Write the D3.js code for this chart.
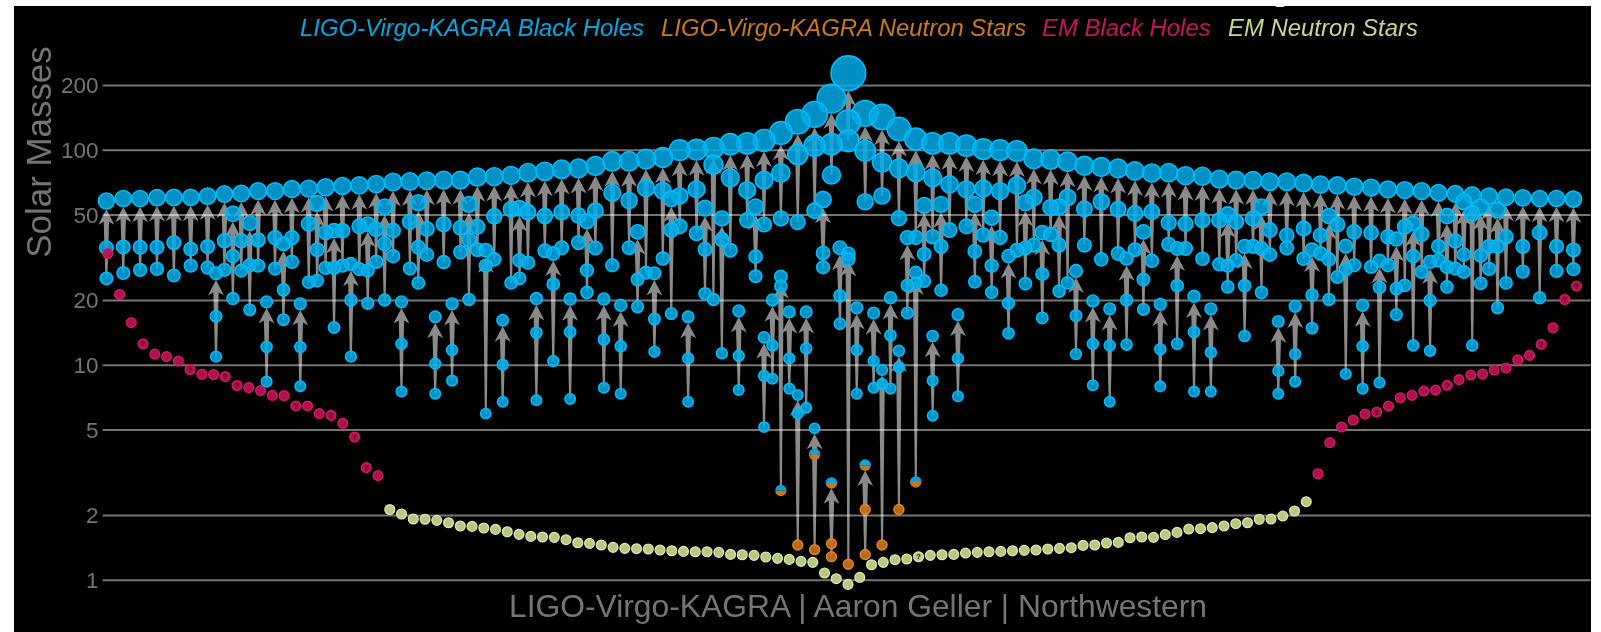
<!DOCTYPE html>
<html><head><meta charset="utf-8">
<script src="https://cdn.jsdelivr.net/npm/d3@7"></script>
<style>html,body{margin:0;padding:0;background:#fff}svg{display:block;filter:blur(0.4px)}</style>
</head><body><svg id="c" width="1601" height="632"></svg>
<script>
const yTicks=[1,2,5,10,20,50,100,200];
const legendLabels=["LIGO-Virgo-KAGRA Black Holes","LIGO-Virgo-KAGRA Neutron Stars","EM Black Holes","EM Neutron Stars"];
const yTitle="Solar Masses";
const credit="LIGO-Virgo-KAGRA | Aaron Geller | Northwestern";

// heaviest mergers, one per whole column 0..87
const topFinal=[57.7,59.3,59.3,59.8,60,60,60.8,62.2,62.6,64.2,64.2,65.6,65.9,66.8,67.8,68.2,69.2,70.7,71.2,71.7,72.2,72.2,74.6,74.9,75.9,78.2,79.3,81,81.8,84,88.3,88.3,90.4,92,99.6,100,102,106,107,110.5,119.6,135,146,172.7,227,147.6,142,124.8,112,107,107,104.4,100.7,99.6,98.6,90.7,90,87.9,84.2,83.1,81.8,79.6,77.9,78.2,75.7,75.2,73,72.2,72,71,71,70,68.8,68.2,67.3,66.6,65.4,64.9,64.2,63,62.3,61.5,60.8,60.1,59.7,59.3,59.3,58.9];
const topPrimary=[35,35.3,35.2,35.2,37,34.5,35.4,37.7,37.7,38,39,39,45.2,41.2,42,44,42.6,42.1,46.2,42.8,45,43.3,43.8,49,52.8,51.2,49.1,51.2,49.4,52,63,58,66.3,64.4,61,65.4,85.2,74,64.9,72.2,78,95,104.4,106,134.5,98.9,87.3,81.8,78.4,74,69,65.4,66,64.2,68.2,60,53.9,60,53,57.3,52.8,50.5,51.4,45.7,45.2,47,47,46.2,47.9,42.3,40,43,40,44.9,41.5,41.1,39.4,43.8,40.5,35.5,37.6,50.5,35.5,39.4,35.5,41.1,35.5,34.2];
const topSecondary=[25.2,26.7,27.6,27.9,26,28.9,28.3,27.6,27.4,28.9,28,30.1,24.2,28.2,28.9,27.8,30.1,32,28,32.5,30,33.4,34.3,30.9,24,29.8,33.9,35,37,34.9,29,35,26.8,31.2,44,40.8,20.1,34.1,47,44.9,47.9,46,52,76.2,110,57.3,61,48,39.1,39.4,42.3,44,40.1,39.1,34.1,36,40.4,24,36,30.9,32.9,34.3,30.4,36.3,34.7,31.1,29.3,30.6,35.5,32.5,34.9,31.1,32.9,25.6,29,28.5,29,23.4,27,30.6,28,12.3,27.9,24,27.1,20.5,27.3,27.8];

// lighter mergers, on the half columns 6.5..82.5
const midFinal=[26.6,50.3,45.6,19.6,36.5,19.2,56.3,42,29.4,45,54.3,19.6,56.7,16.7,19.2,55.7,34.1,16.1,53.4,20.3,32.9,20.2,46.5,20.2,18.9,41.5,26.6,59.3,16.7,53.5,47.9,17.8,54.3,20,17.6,17.6,58.7,35,18.4,17.4,20.5,39,55.1,55.7,17.1,55.7,48.3,32,56.7,41.2,54.3,27.3,19.8,18.2,31.2,41.5,19.1,34.7,20.8,18.2,50,35.5,54.3,15.9,18.7,34.3,49.1,35.6,18.9,30.4,38.4,45.4,30.1,49.1,57.3,54.3,52.4];
const midPrimary=[16.8,32,29,12.1,22.3,12.1,34.3,28.2,20,27.4,36.6,12.5,35.2,10.1,11.7,38,28.9,10,30.6,14.1,23.7,14.2,27.5,13.1,12.2,24.9,16.3,42.3,10.7,34.4,38.2,11,31.8,12.3,10.7,11.9,33.1,20.9,11.7,10.4,13.7,23.4,32.7,35.5,10.7,33.7,28.9,19.3,34.9,26.4,36,16.9,12.5,12.3,20,24.9,11.8,23.3,14.2,11.4,28.9,23.3,34.7,9.35,11.2,21.1,30.9,27.7,12.2,22.9,22.6,32,19.9,28.5,32.5,32.2,35.5];
const midSecondary=[10.9,20.3,18,8.34,16.2,7.93,24.6,14.9,10.9,19.3,20,7.5,24,7.33,8.43,20.1,5.92,6.73,25.2,6.83,10.4,6.93,21.7,7.82,7.33,18.6,11.5,17.3,6.73,21.4,11.3,7.63,25.8,8.6,7.74,6.31,28.4,15.5,7.33,7.82,7.74,17.4,24.5,22.2,7.13,24.3,21.7,14,23.8,16.5,22,11.2,8.03,6.73,12.4,18.1,7.93,12.5,7.5,7.5,23,13.6,21.7,7.33,8.34,14.8,20.1,9.05,7.74,8.25,17.1,12.3,11.6,23,27,23.9,18.4];

// lowest-mass mergers near the centre
const lowColumn=[39,40,41,42,43,44,45,46,47,48,49];
const lowFinal=[13.4,25.7,7.22,5.06,2.82,32.8,3.41,9.45,11.6,26.8,13.6];
const lowPrimary=[8.87,23.2,5.92,3.83,1.47,30.9,2.12,8.16,9.75,23.9,8.43];
const lowSecondary=[5.13,2.6,1.45,1.38,1.28,1.18,1.31,1.45,2.12,2.85,5.79];

// electromagnetic objects, positions 0..125
const emBlackLeft=[32.9,21.2,15.7,12.5,11.2,10.9,10.4,9.5,9.03,9,8.8,8,7.82,7.58,7.2,7.18,6.43,6.43,5.92,5.81,5.34,4.61,3.32,3.05];
const emNeutron=[2.12,2.02,1.915,1.91,1.888,1.84,1.777,1.77,1.74,1.714,1.672,1.625,1.59,1.58,1.574,1.535,1.486,1.476,1.45,1.414,1.399,1.394,1.389,1.374,1.364,1.354,1.349,1.349,1.34,1.311,1.307,1.298,1.275,1.257,1.243,1.217,1.204,1.074,1.011,0.951,1.025,1.174,1.204,1.239,1.248,1.279,1.298,1.307,1.311,1.33,1.34,1.349,1.354,1.364,1.369,1.374,1.389,1.399,1.409,1.444,1.45,1.481,1.491,1.568,1.58,1.574,1.62,1.66,1.72,1.727,1.746,1.777,1.822,1.84,1.91,1.915,1.977,2.086,2.306];
const emBlackRight=[3.11,4.34,5.13,5.53,5.89,6.02,6.42,7.02,7.2,7.54,7.62,8.02,8.52,8.95,9.05,9.45,9.65,10.55,11.05,12.43,14.86,20.1,23.2];
const emUncertain=[3,7,10,11,16,19,21,22,69,108,114,122,124,125];

const svg=d3.select("#c");
svg.append("rect").attr("x",14).attr("y",6).attr("width",1577).attr("height",626).attr("fill","#000");
svg.append("ellipse").attr("cx",1280).attr("cy",5.5).attr("rx",5).attr("ry",1.6).attr("fill","#fff");

const x=d3.scaleLinear().domain([0,87]).range([106.4,1573.4]);
const xEm=d3.scaleLinear().domain([0,125]).range([107.8,1576.5]);
const y=d3.scaleLog().domain([1,100]).range([579.7,149.7]);
const rad=d3.scaleLinear().domain([0,220]).range([5.6,17.7]);

const FONT="'Liberation Sans',Arial,sans-serif";
const GREY="#757575";

// y axis / grid
const axis=d3.axisLeft(y).tickValues(yTicks).tickFormat(d3.format("d")).tickSizeInner(-1488).tickSizeOuter(0).tickPadding(4);
const ag=svg.append("g").attr("transform","translate(102.6,0)").call(axis);
ag.select(".domain").remove();
ag.selectAll("line").attr("stroke",GREY).attr("stroke-width",2);
ag.selectAll("text").attr("fill",GREY).attr("font-family",FONT).attr("font-size",22.5).attr("dy","0.34em");

// events
const events=[];
topFinal.forEach((f,i)=>events.push({c:i,f,a:topPrimary[i],b:topSecondary[i]}));
midFinal.forEach((f,i)=>events.push({c:6.5+i,f,a:midPrimary[i],b:midSecondary[i]}));
lowFinal.forEach((f,i)=>events.push({c:lowColumn[i],f,a:lowPrimary[i],b:lowSecondary[i]}));

function arrowPath(e){
  const X=x(e.c),tip=y(e.f)+rad(e.f)-0.5,y0=y(e.b),hl=15.5,hw=8,nk=12.5;
  const base=tip+nk,wt=2.7,wb=1;
  const p=[[X,tip],[X+hw,tip+hl],[X+wt,base]];
  if(y0>base)p.push([X+wb,y0],[X-wb,y0]);
  p.push([X-wt,base],[X-hw,tip+hl]);
  return d3.line()(p)+"Z";
}
svg.append("g").style("mix-blend-mode","screen").selectAll("path").data(events).join("path")
  .attr("d",arrowPath).attr("fill","#8a8a8a");

const BLUE={fill:"rgba(0,172,232,0.84)",stroke:"#00bcf8"};
const ORANGE={fill:"rgba(200,112,28,0.92)",stroke:"#dc8624"};
const PINK={fill:"rgba(184,18,82,0.95)",stroke:"#d41e64"};
const GREEN={fill:"rgba(194,210,136,0.95)",stroke:"#dceaaa"};

const dots=[];
events.forEach(e=>{[e.f,e.a,e.b].forEach(m=>dots.push({X:x(e.c),m}));});
dots.sort((p,q)=>q.m-p.m);
const dg=svg.append("g");
const halfUp=d3.arc().innerRadius(0).startAngle(-Math.PI/2).endAngle(Math.PI/2);
const halfDn=d3.arc().innerRadius(0).startAngle(Math.PI/2).endAngle(3*Math.PI/2);
dots.forEach(d=>{
  const r=rad(d.m),Y=y(d.m);
  if(d.m<2.5){
    dg.append("circle").attr("cx",d.X).attr("cy",Y).attr("r",r-0.8).attr("fill",ORANGE.fill).attr("stroke",ORANGE.stroke).attr("stroke-width",1.6);
  }else if(d.m<4.5){
    dg.append("path").attr("transform",`translate(${d.X},${Y})`).attr("d",halfDn({outerRadius:r})).attr("fill","#c9761e");
    dg.append("path").attr("transform",`translate(${d.X},${Y})`).attr("d",halfUp({outerRadius:r})).attr("fill","#00a6e0");
  }else{
    dg.append("circle").attr("cx",d.X).attr("cy",Y).attr("r",r-0.8).attr("fill",BLUE.fill).attr("stroke",BLUE.stroke).attr("stroke-width",1.6);
  }
});

// EM series
const em=[...emBlackLeft.map(m=>({m,s:PINK})),...emNeutron.map(m=>({m,s:GREEN})),...emBlackRight.map(m=>({m,s:PINK}))];
const eg=svg.append("g");
eg.selectAll("circle").data(em).join("circle")
  .attr("cx",(d,i)=>xEm(i)).attr("cy",d=>y(d.m)).attr("r",4.9)
  .attr("fill",d=>d.s.fill).attr("stroke",d=>d.s.stroke).attr("stroke-width",1.3);
eg.selectAll("text").data(emUncertain).join("text")
  .attr("x",j=>xEm(j)).attr("y",j=>y(em[j].m)+2.6).attr("text-anchor","middle")
  .attr("font-family",FONT).attr("font-size",7.5).attr("font-weight","bold").attr("fill","#2a0a18").text("?");

// legend
const legendX=[300,661,1042,1228];
const legendColors=["#00a8e4","#cc7a1c","#c8145c","#c8d88e"];
svg.append("g").selectAll("text").data(legendLabels).join("text")
  .attr("x",(d,i)=>legendX[i]).attr("y",35.5).attr("font-family",FONT).attr("font-style","italic")
  .attr("font-size",23.9).attr("fill",(d,i)=>legendColors[i]).text(d=>d);

svg.append("text").attr("transform","translate(51,152) rotate(-90)").attr("text-anchor","middle")
  .attr("font-family",FONT).attr("font-size",34.9).attr("fill",GREY).text(yTitle);
svg.append("text").attr("x",858).attr("y",617).attr("text-anchor","middle")
  .attr("font-family",FONT).attr("font-size",31.8).attr("fill",GREY).text(credit);
</script></body></html>
